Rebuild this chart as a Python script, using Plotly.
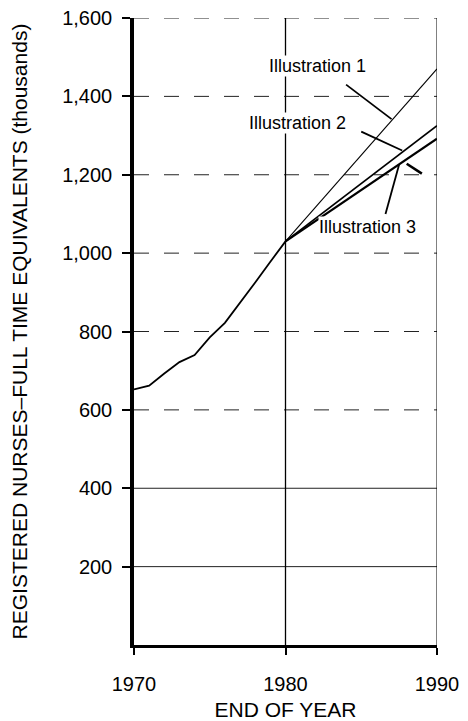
import plotly.graph_objects as go

# historic series (end of year, thousands of FTE registered nurses)
hist_years = [1970, 1971, 1972, 1973, 1974, 1975, 1976, 1977, 1978, 1979, 1980]
hist_nurses = [652, 662, 693, 722, 740, 785, 822, 872, 925, 978, 1030]

# projections 1980 -> 1990
proj_years = [1980, 1990]
illus_1 = [1030, 1470]
illus_2 = [1030, 1325]
illus_3 = [1030, 1292]

y_ticks = [200, 400, 600, 800, 1000, 1200, 1400, 1600]
x_ticks = [1970, 1980, 1990]

FONT = "Liberation Sans, Arial, sans-serif"

fig = go.Figure()

# horizontal guide lines (upper ones printed as broken rules)
for lvl in y_ticks:
    fig.add_hline(y=lvl, line=dict(color="#222", width=1,
                                   dash="longdash" if lvl >= 600 else "solid"),
                  layer="below")
fig.add_vline(x=1980, line=dict(color="black", width=1.3), layer="below")
fig.add_vline(x=1990, line=dict(color="black", width=1), layer="below")

fig.add_trace(go.Scatter(x=hist_years, y=hist_nurses, mode="lines",
                         line=dict(color="black", width=1.8), hoverinfo="x+y"))
fig.add_trace(go.Scatter(x=proj_years, y=illus_1, mode="lines", name="Illustration 1",
                         line=dict(color="black", width=1.1)))
fig.add_trace(go.Scatter(x=proj_years, y=illus_2, mode="lines", name="Illustration 2",
                         line=dict(color="black", width=1.7)))
fig.add_trace(go.Scatter(x=proj_years, y=illus_3, mode="lines", name="Illustration 3",
                         line=dict(color="black", width=2.3)))

# labels with separate leader strokes
labels = [
    ("Illustration 1", 1982.1, 1478),
    ("Illustration 2", 1980.8, 1331),
    ("Illustration 3", 1985.4, 1067),
]
for txt, lx, ly in labels:
    fig.add_annotation(x=lx, y=ly, text=txt, showarrow=False, bgcolor="white",
                       borderpad=0,
                       font=dict(family=FONT, size=18, color="black"))

leaders = [
    (1984.0, 1430, 1987.0, 1342, 1.8),
    (1985.0, 1310, 1987.7, 1262, 1.8),
    (1986.6, 1100, 1987.5, 1226, 1.8),
    (1988.0, 1228, 1989.0, 1203, 2.6),
]
for x0, y0, x1, y1, w in leaders:
    fig.add_shape(type="line", x0=x0, y0=y0, x1=x1, y1=y1,
                  line=dict(color="black", width=w))

# page body adds an 8px margin, so the figure is sized to fit inside it
fig.update_layout(
    width=460, height=713,
    margin=dict(l=126, r=31, t=10, b=76),
    paper_bgcolor="white", plot_bgcolor="white",
    showlegend=False,
    font=dict(family=FONT, color="black"),
    xaxis=dict(
        range=[1970, 1990], tickvals=x_ticks, showgrid=False, zeroline=False,
        automargin=False, ticklabeloverflow="allow",
        showline=True, linecolor="black", linewidth=3,
        ticks="outside", ticklen=7, tickwidth=1.5, tickcolor="black",
        ticklabelstandoff=12, tickfont=dict(size=20),
        title=dict(text="END OF YEAR", font=dict(size=21), standoff=10),
    ),
    yaxis=dict(
        range=[0, 1600], tickvals=y_ticks, tickformat=",", showgrid=False,
        zeroline=False, automargin=False, ticklabeloverflow="allow",
        showline=True, linecolor="black", linewidth=3.5,
        ticks="outside", ticklen=8, tickwidth=1.5, tickcolor="black",
        ticklabelstandoff=6, tickfont=dict(size=20),
        title=dict(text="REGISTERED NURSES\u2013FULL TIME EQUIVALENTS (thousands)",
                   font=dict(size=21), standoff=30),
    ),
)

fig.write_html("out.html")
